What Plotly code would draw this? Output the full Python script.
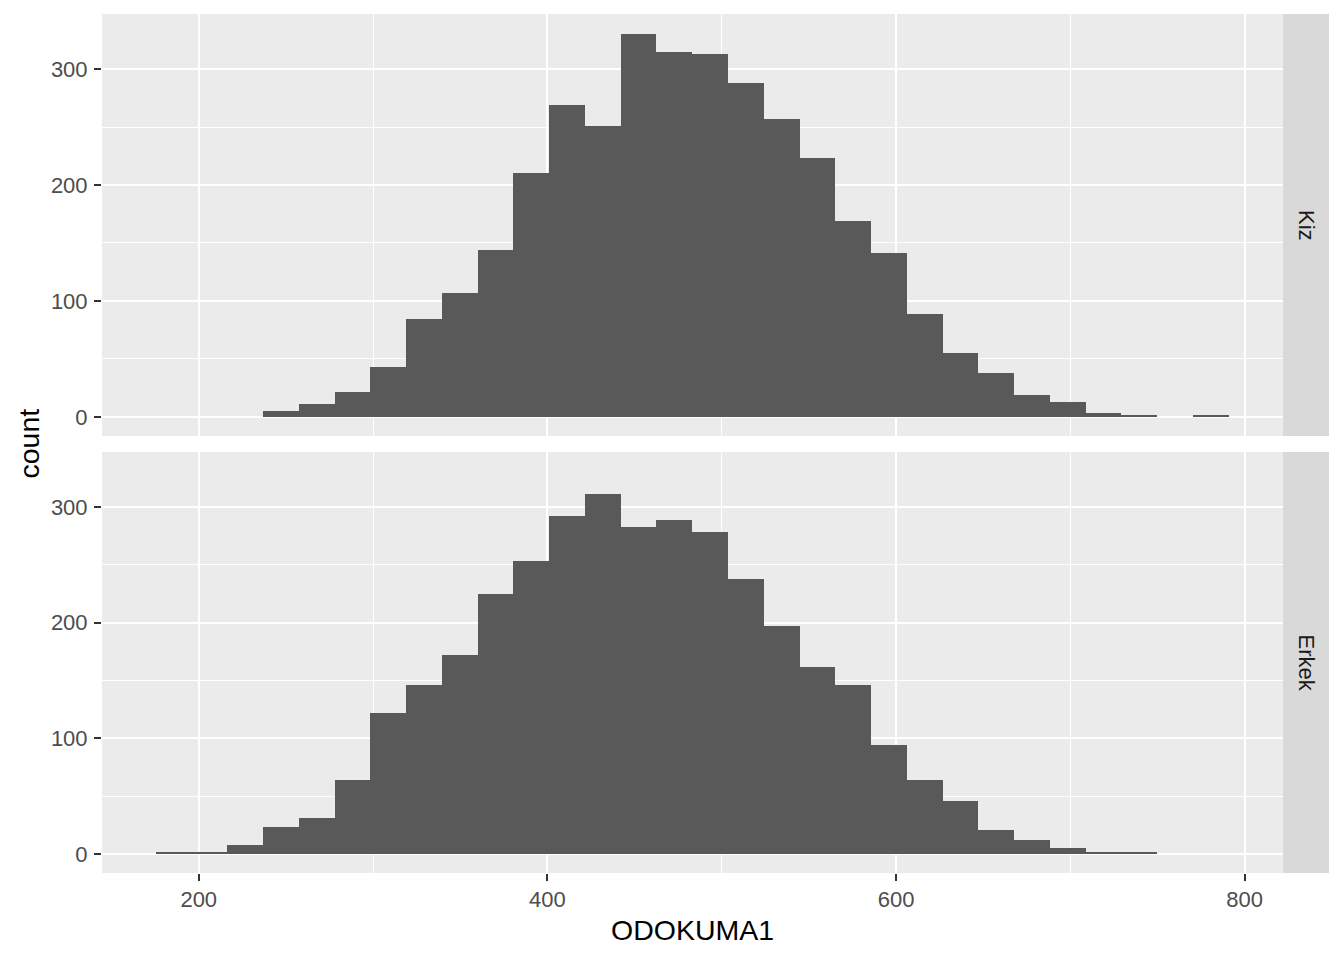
import numpy as np
import plotly.graph_objects as go
from plotly.subplots import make_subplots

# histogram of ODOKUMA1, 30 bins, faceted by gender
bin_start = 175.3
bin_width = 20.52
kiz_counts = [0, 0, 0, 5, 11, 21, 43, 84, 107, 144, 210, 269, 251, 330, 315,
              313, 288, 257, 223, 169, 141, 89, 55, 38, 19, 13, 3, 2, 0, 1]
erkek_counts = [2, 2, 8, 23, 31, 64, 122, 146, 172, 225, 253, 292, 311, 283, 289,
                278, 238, 197, 162, 146, 94, 64, 46, 21, 12, 5, 2, 2, 0, 0]
panels = ["Kiz", "Erkek"]
x_ticks = [200, 400, 600, 800]
y_ticks = [0, 100, 200, 300]

centers = bin_start + bin_width * (np.arange(len(kiz_counts)) + 0.5)

FONT = "Liberation Sans, Arial, sans-serif"
BAR = "#595959"
PANEL_BG = "#EBEBEB"
STRIP_BG = "#D9D9D9"

fig = make_subplots(rows=2, cols=1, shared_xaxes=True)

for row, counts in enumerate([kiz_counts, erkek_counts], start=1):
    fig.add_trace(go.Bar(
        x=centers, y=counts, width=bin_width,
        marker=dict(color=BAR, line=dict(width=0)),
        showlegend=False, hoverinfo="x+y"
    ), row=row, col=1)

# panel geometry (pixels in the page; body has an 8px offset)
plot_h = 873 - 14
plot_w = 1283 - 102
top_dom = [(873 - 436) / plot_h, 1.0]
bot_dom = [0.0, (873 - 452) / plot_h]

axis_common = dict(
    showline=False, zeroline=False,
    gridcolor="white", gridwidth=2,
    tickfont=dict(family=FONT, size=22, color="#4D4D4D"),
    tickcolor="#333333", tickwidth=2, ticklen=7,
)

fig.update_xaxes(
    range=[144.5, 822], tickvals=x_ticks, ticks="outside",
    minor=dict(dtick=100, tick0=0, showgrid=True, gridcolor="white", gridwidth=1, ticks=""),
    ticklabelstandoff=0,
    **axis_common
)
fig.update_xaxes(showticklabels=False, ticks="", row=1, col=1)

fig.update_yaxes(
    range=[-16.55, 347.55], tickvals=y_ticks, ticks="outside",
    minor=dict(dtick=50, tick0=0, showgrid=True, gridcolor="white", gridwidth=1, ticks=""),
    ticklabelstandoff=2,
    **axis_common
)
fig.update_layout(
    yaxis=dict(domain=top_dom),
    yaxis2=dict(domain=bot_dom),
)

# facet strips on the right
strip_x1 = 1 + 46 / plot_w
shapes = []
annotations = []
for dom, label in zip([top_dom, bot_dom], panels):
    shapes.append(dict(type="rect", xref="paper", yref="paper",
                       x0=1, x1=strip_x1, y0=dom[0], y1=dom[1],
                       fillcolor=STRIP_BG, line=dict(width=0), layer="below"))
    annotations.append(dict(text=label, xref="paper", yref="paper",
                            x=1 + 23 / plot_w, y=(dom[0] + dom[1]) / 2,
                            xanchor="center", yanchor="middle", textangle=90,
                            showarrow=False,
                            font=dict(family=FONT, size=22, color="#1A1A1A")))

annotations.append(dict(text="count", xref="paper", yref="paper",
                        x=(28 - 102) / plot_w, y=0.5, textangle=-90,
                        xanchor="center", yanchor="middle", showarrow=False,
                        font=dict(family=FONT, size=28.5, color="black")))
annotations.append(dict(text="ODOKUMA1", xref="paper", yref="paper",
                        x=0.5, y=(873 - 930) / plot_h,
                        xanchor="center", yanchor="middle", showarrow=False,
                        font=dict(family=FONT, size=28.5, color="black")))

fig.update_layout(
    width=1344, height=960,
    margin=dict(l=94, r=69, t=6, b=95),
    paper_bgcolor="white", plot_bgcolor=PANEL_BG,
    bargap=0, barmode="overlay",
    shapes=shapes, annotations=annotations,
    showlegend=False,
)

fig.write_html("out.html")
